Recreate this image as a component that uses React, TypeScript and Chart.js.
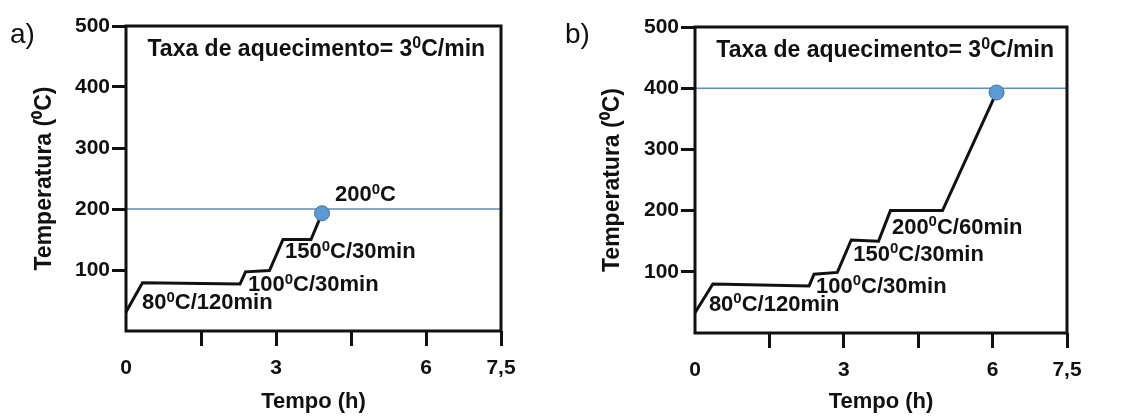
import React, { useEffect, useRef } from "react";
import { Chart, registerables } from "chart.js";
Chart.register(...registerables);

const FONT = '"Liberation Sans", Arial, Helvetica, sans-serif';

// ---- axis ticks ----
const X_TICKS = [0, 1.5, 3, 4.5, 6, 7.5];
const X_TICK_LABELS = ["0", "", "3", "", "6", "7,5"];
const Y_TICKS = [0, 100, 200, 300, 400, 500];
const Y_TICK_LABELS = ["", "100", "200", "300", "400", "500"];

// ---- panel a) ----
const TIME_A = [0, 0.33, 2.28, 2.39, 2.87, 3.14, 3.7, 3.92];
const TEMP_A = [31, 79, 77, 97, 99, 150, 150, 193];
const TARGET_A = 200;

// ---- panel b) ----
const TIME_B = [0, 0.36, 2.3, 2.4, 2.87, 3.15, 3.7, 3.94, 4.99, 6.08];
const TEMP_B = [33, 80, 77, 96, 99, 152, 150, 200, 200, 393];
const TARGET_B = 400;

// ---- texts ("^" marks a superscript character) ----
const TITLE = "Taxa de aquecimento= 3^0C/min";
const Y_TITLE = "Temperatura (\u2070C)";
const X_TITLE = "Tempo (h)";
const NOTES_A = [
  { text: "80^0C/120min", x: 0.32, y: 46 },
  { text: "100^0C/30min", x: 2.44, y: 75 },
  { text: "150^0C/30min", x: 3.18, y: 129 },
  { text: "200^0C", x: 4.18, y: 223 },
];
const NOTES_B = [
  { text: "80^0C/120min", x: 0.28, y: 46 },
  { text: "100^0C/30min", x: 2.44, y: 76 },
  { text: "150^0C/30min", x: 3.19, y: 128 },
  { text: "200^0C/60min", x: 3.97, y: 172 },
];

function drawRich(ctx: CanvasRenderingContext2D, str: string, x: number, y: number, size: number) {
  let cx = x;
  ctx.textAlign = "left";
  ctx.textBaseline = "middle";
  let i = 0;
  while (i < str.length) {
    if (str[i] === "^") {
      const ch = str[i + 1];
      ctx.font = `bold ${Math.round(size * 0.7)}px ${FONT}`;
      ctx.fillText(ch, cx, y - size * 0.25);
      cx += ctx.measureText(ch).width;
      i += 2;
    } else {
      let j = i;
      while (j < str.length && str[j] !== "^") j++;
      const seg = str.slice(i, j);
      ctx.font = `bold ${size}px ${FONT}`;
      ctx.fillText(seg, cx, y);
      cx += ctx.measureText(seg).width;
      i = j;
    }
  }
}

const framePlugin = {
  id: "frameAndText",
  afterDatasetsDraw(chart: any) {
    const ctx = chart.ctx as CanvasRenderingContext2D;
    const ca = chart.chartArea;
    const o = chart.options.plugins.frameAndText;
    ctx.save();
    ctx.strokeStyle = "#111";
    ctx.lineWidth = 3;
    ctx.lineJoin = "miter";
    ctx.strokeRect(ca.left, ca.top, ca.right - ca.left, ca.bottom - ca.top);
    ctx.fillStyle = "#111";
    const xs = chart.scales.x;
    const ys = chart.scales.y;
    drawRich(ctx, TITLE, xs.getPixelForValue(0.43), ys.getPixelForValue(462), 23);
    for (const n of o.notes) {
      drawRich(ctx, n.text, xs.getPixelForValue(n.x), ys.getPixelForValue(n.y), 22);
    }
    ctx.font = `28px ${FONT}`;
    ctx.textAlign = "left";
    ctx.textBaseline = "middle";
    ctx.fillText(o.letter, o.letterX, 35);
    ctx.restore();
  },
};

type PanelProps = {
  left: number;
  width: number;
  plotLeft: number;
  plotRight: number;
  plotTop: number;
  plotBottom: number;
  times: number[];
  temps: number[];
  target: number;
  notes: { text: string; x: number; y: number }[];
  letter: string;
  letterX: number;
  yTitleX: number;
};

function Panel(p: PanelProps) {
  const ref = useRef<HTMLCanvasElement>(null);
  useEffect(() => {
    const n = p.times.length;
    const tickFont = { family: FONT, size: 21, weight: "bold" as const };
    const chart = new Chart(ref.current!, {
      type: "line",
      data: {
        datasets: [
          {
            data: p.times.map((t, i) => ({ x: t, y: p.temps[i] })),
            borderColor: "#111",
            borderWidth: 3,
            borderJoinStyle: "miter",
            tension: 0,
            order: 0,
            clip: false as any,
            pointRadius: (c: any) => (c.dataIndex === n - 1 ? 7.5 : 0),
            pointBackgroundColor: "#5b9bd5",
            pointBorderColor: "#41719c",
            pointBorderWidth: 1,
          } as any,
          {
            data: [
              { x: 0, y: p.target },
              { x: 7.5, y: p.target },
            ],
            borderColor: "#5b8ec6",
            borderWidth: 1.5,
            pointRadius: 0,
            order: 1,
          },
        ],
      },
      options: {
        responsive: false,
        animation: false,
        layout: {
          padding: { left: 0, top: p.plotTop, right: p.width - p.plotRight, bottom: 0 },
        },
        plugins: {
          legend: { display: false },
          tooltip: { enabled: false },
          frameAndText: { notes: p.notes, letter: p.letter, letterX: p.letterX },
        } as any,
        scales: {
          x: {
            type: "linear",
            min: 0,
            max: 7.5,
            afterBuildTicks: (a: any) => {
              a.ticks = X_TICKS.map((v) => ({ value: v }));
            },
            afterFit: (s: any) => {
              s.height = 416 - p.plotBottom;
            },
            ticks: {
              autoSkip: false,
              maxRotation: 0,
              padding: 10,
              color: "#111",
              font: tickFont,
              callback: (v: any) => {
                const k = X_TICKS.indexOf(Number(v));
                return k >= 0 ? X_TICK_LABELS[k] : "";
              },
            },
            grid: {
              drawOnChartArea: false,
              drawTicks: true,
              tickLength: 15,
              tickWidth: 3,
              tickColor: (c: any) => (c.tick && c.tick.value === 0 ? "rgba(0,0,0,0)" : "#111"),
            },
            border: { display: false },
            title: {
              display: true,
              text: X_TITLE,
              color: "#111",
              font: { family: FONT, size: 22, weight: "bold" },
              padding: { top: 0, bottom: 1 },
            },
          },
          y: {
            type: "linear",
            min: 0,
            max: 500,
            afterBuildTicks: (a: any) => {
              a.ticks = Y_TICKS.map((v) => ({ value: v }));
            },
            afterFit: (s: any) => {
              s.width = p.plotLeft;
            },
            ticks: {
              padding: 2,
              color: "#111",
              font: tickFont,
              callback: (v: any) => {
                const k = Y_TICKS.indexOf(Number(v));
                return k >= 0 ? Y_TICK_LABELS[k] : "";
              },
            },
            grid: {
              drawOnChartArea: false,
              drawTicks: true,
              tickLength: 14,
              tickWidth: 3,
              tickColor: (c: any) => (c.tick && c.tick.value === 0 ? "rgba(0,0,0,0)" : "#111"),
            },
            border: { display: false },
            title: {
              display: true,
              text: Y_TITLE,
              color: "#111",
              font: { family: FONT, size: 23, weight: "bold" },
              padding: { top: p.yTitleX - 14, bottom: 0 },
            },
          },
        },
      } as any,
      plugins: [framePlugin as any],
    });
    return () => chart.destroy();
  }, []);
  return (
    <canvas
      ref={ref}
      width={p.width}
      height={416}
      style={{ position: "absolute", left: p.left, top: 0, width: p.width, height: 416 }}
    />
  );
}

export default function App() {
  return (
    <div style={{ position: "absolute", left: 0, top: 0, width: 1136, height: 416, background: "#fff" }}>
      <Panel
        left={0}
        width={556}
        plotLeft={126}
        plotRight={501}
        plotTop={26}
        plotBottom={331}
        times={TIME_A}
        temps={TEMP_A}
        target={TARGET_A}
        notes={NOTES_A}
        letter="a)"
        letterX={10}
        yTitleX={45}
      />
      <Panel
        left={556}
        width={580}
        plotLeft={139}
        plotRight={511}
        plotTop={27}
        plotBottom={333}
        times={TIME_B}
        temps={TEMP_B}
        target={TARGET_B}
        notes={NOTES_B}
        letter="b)"
        letterX={9}
        yTitleX={57}
      />
    </div>
  );
}
